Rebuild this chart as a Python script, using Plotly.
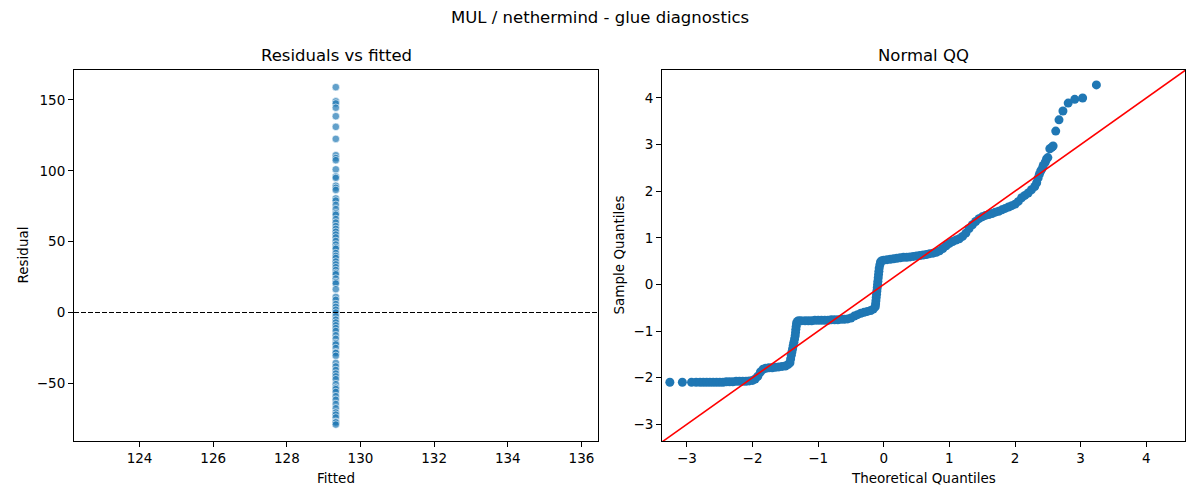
import plotly.graph_objects as go

# ---------------- data ----------------
FITTED_VALUE = 129.33
residuals = [159, 149, 147.5, 144.5, 138.5, 131, 122.5, 111, 109, 107.5, 101, 96, 95,
             89.5, 88, 86.5, 80.5, 79, 76, 73, 70, 69, 66, 63.5, 61, 59, 57, 55, 53,
             50.5, 48, 46, 45, 42, 40, 38.5, 36, 34, 32, 30, 28, 27, 24, 21.5, 20.5,
             16.5, 11, 9, 6, 4, 2, 0, -2.5, -5, -7, -9, -11, -13, -16, -18.5, -21.5,
             -22.5, -25, -28, -28.5, -30.5, -35.5, -38, -40.5, -43, -45, -47, -50.5,
             -53, -54, -56, -59, -61.5, -64.5, -67.5, -70.5, -72, -74, -77, -77.5, -79]
fitted = [FITTED_VALUE] * len(residuals)

theoretical_q = [
    -3.26, -3.07, -2.93, -2.86, -2.80, -2.75, -2.70, -2.65, -2.60, -2.55, -2.50, -2.45,
    -2.40, -2.35, -2.30, -2.25, -2.20, -2.15, -2.10, -2.05, -2.00, -1.96, -1.92, -1.88,
    -1.84, -1.80, -1.75, -1.70, -1.65, -1.60, -1.55, -1.50, -1.46,
    -1.43, -1.42, -1.41, -1.40, -1.39, -1.38, -1.37, -1.36, -1.35, -1.345, -1.34, -1.335,
    -1.33, -1.32, -1.30,
    -1.26, -1.20, -1.15, -1.10, -1.05, -1.00, -0.95, -0.90, -0.85, -0.80, -0.75, -0.70,
    -0.65, -0.60, -0.55, -0.50, -0.45, -0.40, -0.35, -0.30, -0.25, -0.20, -0.16,
    -0.13, -0.125, -0.12, -0.115, -0.11, -0.105, -0.10, -0.095, -0.09, -0.085, -0.08,
    -0.075, -0.07, -0.06, -0.05, -0.03,
    0.00, 0.05, 0.10, 0.15, 0.20, 0.25, 0.30, 0.35, 0.40, 0.45, 0.50, 0.55, 0.60, 0.65,
    0.70, 0.75, 0.80, 0.85, 0.90, 0.95, 1.00, 1.05, 1.10, 1.15, 1.20, 1.25, 1.30, 1.35,
    1.40, 1.45, 1.50, 1.55, 1.60, 1.65, 1.70, 1.75, 1.80, 1.85, 1.90, 1.95, 2.00, 2.05,
    2.10, 2.15, 2.20, 2.25, 2.30, 2.33, 2.35, 2.37, 2.39, 2.41, 2.43, 2.46, 2.48, 2.50,
    2.53, 2.56, 2.58, 2.62, 2.67, 2.73, 2.81, 2.91, 3.03, 3.24]
sample_q = [
    -2.10, -2.10, -2.10, -2.10, -2.10, -2.10, -2.10, -2.10, -2.10, -2.10, -2.10, -2.10,
    -2.09, -2.09, -2.09, -2.08, -2.08, -2.08, -2.08, -2.07, -2.06, -2.03, -1.97, -1.88,
    -1.82, -1.80, -1.79, -1.79, -1.78, -1.77, -1.76, -1.75, -1.72,
    -1.68, -1.60, -1.52, -1.45, -1.38, -1.31, -1.24, -1.17, -1.10, -1.03, -0.96, -0.90,
    -0.84, -0.80, -0.78,
    -0.78, -0.78, -0.78, -0.78, -0.77, -0.77, -0.77, -0.77, -0.77, -0.76, -0.76, -0.76,
    -0.75, -0.75, -0.74, -0.72, -0.68, -0.65, -0.62, -0.60, -0.58, -0.56, -0.53,
    -0.48, -0.42, -0.35, -0.28, -0.21, -0.14, -0.07, 0.00, 0.07, 0.14, 0.21,
    0.28, 0.35, 0.42, 0.48, 0.51,
    0.52, 0.53, 0.54, 0.55, 0.56, 0.57, 0.58, 0.58, 0.59, 0.60, 0.61, 0.62, 0.63, 0.64,
    0.66, 0.67, 0.69, 0.72, 0.77, 0.83, 0.88, 0.92, 0.95, 0.98, 1.03, 1.10, 1.20, 1.28,
    1.35, 1.41, 1.45, 1.48, 1.50, 1.52, 1.55, 1.57, 1.60, 1.63, 1.66, 1.69, 1.72, 1.78,
    1.86, 1.91, 1.96, 2.03, 2.10, 2.18, 2.28, 2.36, 2.43, 2.48, 2.55, 2.62, 2.69, 2.72,
    2.91, 2.94, 2.97, 3.29, 3.53, 3.72, 3.89, 3.97, 4.00, 4.28]

ref_line = [-3.4, 4.6]

left_xticks = [124, 126, 128, 130, 132, 134, 136]
left_yticks = [-50, 0, 50, 100, 150]
right_ticks = [-3, -2, -1, 0, 1, 2, 3, 4]


def lab(v):
    return str(v).replace("-", "\u2212")


FONT = "DejaVu Sans"
PAGE_OFFSET = 8          # default body margin of the html page
W, H = 1200 - PAGE_OFFSET, 500 - PAGE_OFFSET
# axes boxes in page pixels
L1, R1 = 74, 598
L2, R2 = 662, 1185
TOP, BOT = 70, 441


def px_x(p):
    return (p - PAGE_OFFSET) / W


def px_y(p):
    return 1 - (p - PAGE_OFFSET) / H


fig = go.Figure()

fig.add_trace(go.Scatter(
    x=fitted, y=residuals, mode="markers", xaxis="x", yaxis="y",
    marker=dict(size=7.5, color="rgba(31,119,180,0.7)",
                line=dict(color="white", width=0.6)),
    showlegend=False, hoverinfo="skip"))

fig.add_trace(go.Scatter(
    x=theoretical_q, y=sample_q, mode="markers", xaxis="x2", yaxis="y2",
    marker=dict(size=9, color="#1f77b4", line=dict(width=0)),
    showlegend=False, hoverinfo="skip"))

fig.add_trace(go.Scatter(
    x=ref_line, y=ref_line, mode="lines", xaxis="x2", yaxis="y2",
    line=dict(color="red", width=1.6), showlegend=False, hoverinfo="skip"))

fig.add_shape(type="line", xref="x domain", yref="y", x0=0, x1=1, y0=0, y1=0,
              line=dict(color="black", width=1.1, dash="5px,2px"))

axis_common = dict(showline=True, linecolor="black", linewidth=1, mirror=True,
                   ticks="outside", ticklen=5, tickwidth=1, tickcolor="black",
                   showgrid=False, zeroline=False,
                   tickfont=dict(family=FONT, size=13.5, color="black"))

fig.update_layout(
    width=W, height=H,
    margin=dict(l=0, r=0, t=0, b=0),
    paper_bgcolor="white", plot_bgcolor="white",
    font=dict(family=FONT, color="black"),
    xaxis=dict(domain=[px_x(L1), px_x(R1)], range=[122.22, 136.45], anchor="y",
               tickvals=left_xticks, ticktext=[lab(v) for v in left_xticks], **axis_common),
    yaxis=dict(domain=[px_y(BOT), px_y(TOP)], range=[-90.6, 171.1], anchor="x",
               tickvals=left_yticks, ticktext=[lab(v) for v in left_yticks], **axis_common),
    xaxis2=dict(domain=[px_x(L2), px_x(R2)], range=[-3.38, 4.59], anchor="y2",
                tickvals=right_ticks, ticktext=[lab(v) for v in right_ticks], **axis_common),
    yaxis2=dict(domain=[px_y(BOT), px_y(TOP)], range=[-3.36, 4.60], anchor="x2",
                tickvals=right_ticks, ticktext=[lab(v) for v in right_ticks], **axis_common),
)

ann = [
    dict(text="MUL / nethermind - glue diagnostics", x=px_x(600), y=px_y(18), size=16.5, angle=0),
    dict(text="Residuals vs fitted", x=px_x((L1 + R1) / 2), y=px_y(56), size=16.5, angle=0),
    dict(text="Normal QQ", x=px_x((L2 + R2) / 2), y=px_y(56), size=16.5, angle=0),
    dict(text="Fitted", x=px_x((L1 + R1) / 2), y=px_y(478), size=13.5, angle=0),
    dict(text="Theoretical Quantiles", x=px_x((L2 + R2) / 2), y=px_y(478), size=13.5, angle=0),
    dict(text="Residual", x=px_x(22), y=px_y((TOP + BOT) / 2), size=13.5, angle=-90),
    dict(text="Sample Quantiles", x=px_x(618), y=px_y((TOP + BOT) / 2), size=13.5, angle=-90),
]
for a in ann:
    fig.add_annotation(text=a["text"], xref="paper", yref="paper", x=a["x"], y=a["y"],
                       xanchor="center", yanchor="middle", showarrow=False,
                       textangle=a["angle"],
                       font=dict(family=FONT, size=a["size"], color="black"))

fig.write_html("out.html")
